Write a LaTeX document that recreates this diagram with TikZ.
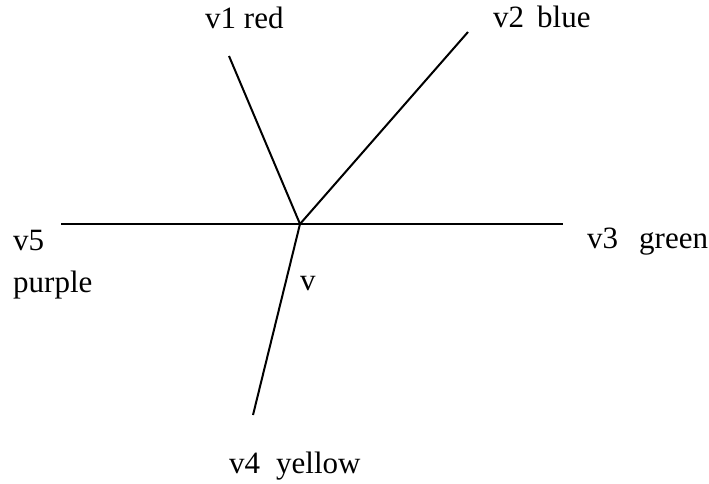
\documentclass[tikz,border=0pt]{standalone}
\usepackage{fontspec}
\setmainfont{Liberation Serif}
\begin{document}
\begin{tikzpicture}[x=1pt,y=-1pt,
  edge/.style={line width=2pt},
  lbl/.style={anchor=base west,inner sep=0pt,font=\fontsize{31}{36}\selectfont}]
\useasboundingbox (0,0) rectangle (709,483);
\coordinate (v) at (300,224);
\coordinate (e1) at (229,56);
\coordinate (e2) at (468,32);
\coordinate (e3) at (563,224);
\coordinate (e5) at (61,224);
\coordinate (e4) at (253,415);
\draw[edge] (v) -- (e1);
\draw[edge] (v) -- (e2);
\draw[edge] (e5) -- (e3);
\draw[edge] (v) -- (e4);
\node[lbl] (l1) at (205,28) {v1 red};
\node[lbl] (l2) at (493,27) {v2\hspace{13pt}blue};
\node[lbl] (l5) at (13,250) {v5};
\node[lbl] (l5b) at (13,292) {purple};
\node[lbl] (lv) at (300,290) {v};
\node[lbl] (l3) at (587,248) {v3\hspace{21pt}green};
\node[lbl] (l4) at (229,473) {v4\hspace{16pt}yellow};
\end{tikzpicture}
\end{document}
